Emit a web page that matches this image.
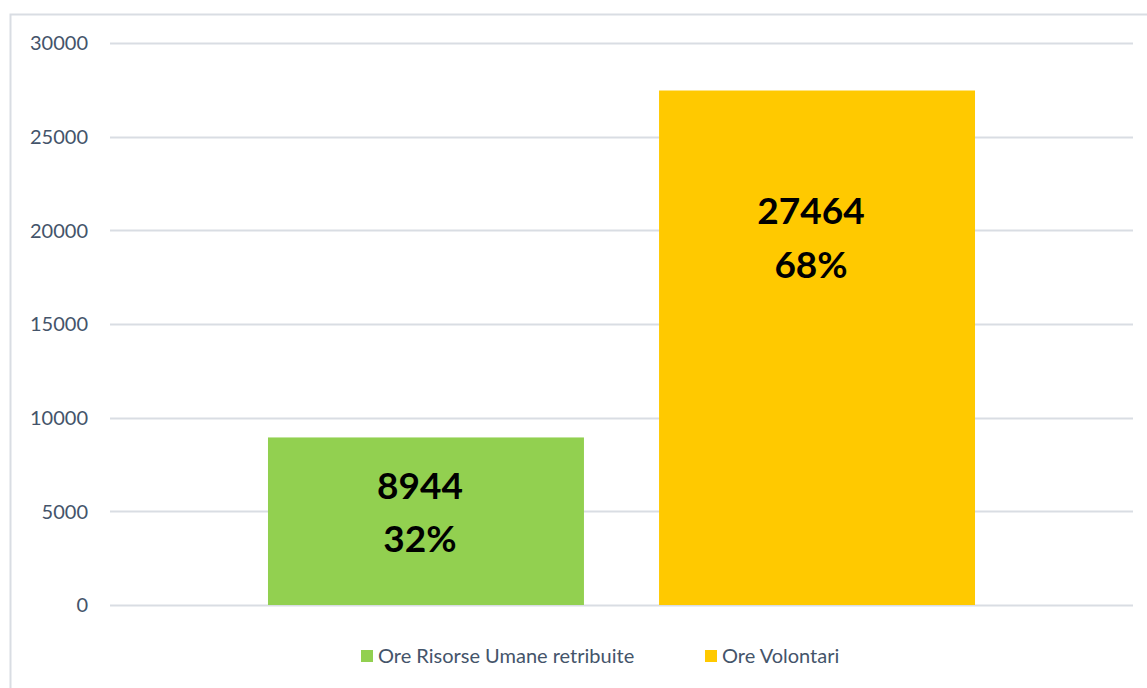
<!DOCTYPE html>
<html>
<head>
<meta charset="utf-8">
<script src="https://cdn.jsdelivr.net/npm/d3@7"></script>
<style>
	body { margin: 0; background: #fff; }
	svg { display: block; }
</style>
</head>
<body>
<div id="chart"></div>
<script>
const series = ["Ore Risorse Umane retribuite", "Ore Volontari"];
const values = [8944, 27464];
const percents = ["32%", "68%"];
const colors = ["#92D050", "#FFC900"];
const yTicks = [0, 5000, 10000, 15000, 20000, 25000, 30000];

const width = 1147;
const height = 688;
const margin = { top: 43, right: 14, bottom: 83, left: 110 };

const svg = d3
	.select("#chart")
	.append("svg")
	.attr("width", width)
	.attr("height", height);

// outer frame (runs off the right and bottom edge)
svg
	.append("rect")
	.attr("x", 10.5)
	.attr("y", 14.5)
	.attr("width", 1160)
	.attr("height", 700)
	.attr("fill", "none")
	.attr("stroke", "#D9DDE3")
	.attr("stroke-width", 2);

const x = d3
	.scaleBand()
	.domain(series)
	.range([margin.left, width - margin.right])
	.paddingInner(0.192)
	.paddingOuter(0.404);

const y = d3
	.scaleLinear()
	.domain([0, 30000])
	.range([height - margin.bottom, margin.top]);

// gridlines
svg
	.append("g")
	.selectAll("line")
	.data(yTicks)
	.join("line")
	.attr("x1", margin.left)
	.attr("x2", width - margin.right)
	.attr("y1", (d) => Math.round(y(d)) + 0.5)
	.attr("y2", (d) => Math.round(y(d)) + 0.5)
	.attr("stroke", "#D9DDE3")
	.attr("stroke-width", 2);

// y tick labels
svg
	.append("g")
	.selectAll("text")
	.data(yTicks)
	.join("text")
	.attr("x", 88)
	.attr("y", (d) => y(d))
	.attr("dy", "0.36em")
	.attr("text-anchor", "end")
	.attr("font-family", "Lato, sans-serif")
	.attr("font-size", 20)
	.attr("fill", "#44546A")
	.text((d) => d);

// bars
svg
	.append("g")
	.selectAll("rect")
	.data(values)
	.join("rect")
	.attr("x", (d, i) => x(series[i]))
	.attr("y", (d) => y(d))
	.attr("width", x.bandwidth())
	.attr("height", (d) => y(0) - y(d))
	.attr("fill", (d, i) => colors[i]);

// value + share labels inside bars (sit a little left of bar centre)
const labelX = (i) => x(series[i]) + x.bandwidth() / 2 - 6;

const labels = svg
	.append("g")
	.selectAll("text")
	.data(values)
	.join("text")
	.attr("text-anchor", "middle")
	.attr("font-family", "Lato, sans-serif")
	.attr("font-weight", "bold")
	.attr("font-size", 37)
	.attr("fill", "#000");

labels
	.append("tspan")
	.attr("x", (d, i) => labelX(i))
	.attr("y", (d, i) => (i == 0 ? y(d) + 62 : y(d) + 133))
	.text((d) => d);

labels
	.append("tspan")
	.attr("x", (d, i) => labelX(i))
	.attr("y", (d, i) => (i == 0 ? y(d) + 115 : y(d) + 187))
	.text((d, i) => percents[i]);

// legend
const legendX = [361, 705];
const legend = svg
	.append("g")
	.selectAll("g")
	.data(series)
	.join("g")
	.attr("transform", (d, i) => `translate(${legendX[i]}, 650)`);

legend
	.append("rect")
	.attr("width", 12)
	.attr("height", 12)
	.attr("fill", (d, i) => colors[i]);

legend
	.append("text")
	.attr("x", 17)
	.attr("y", 6)
	.attr("dy", "0.36em")
	.attr("font-family", "Lato, sans-serif")
	.attr("font-size", 20)
	.attr("fill", "#44546A")
	.text((d) => d);
</script>
</body>
</html>
